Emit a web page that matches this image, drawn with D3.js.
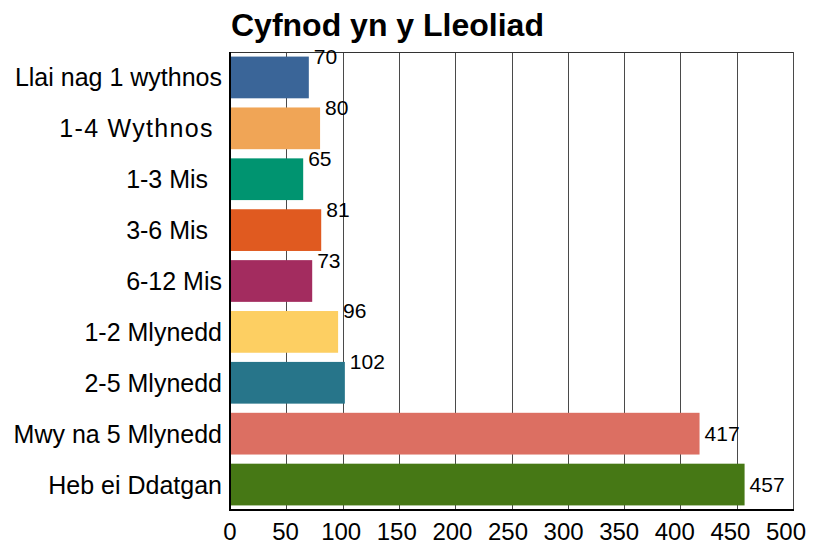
<!DOCTYPE html>
<html>

<head>
  <meta charset="UTF-8">
  <style>
    body { margin: 0; background: #fff; }
    text { font-family: Arial, "Liberation Sans", sans-serif; white-space: pre; }
  </style>
</head>

<body>
  <svg></svg>
  <script src="https://d3js.org/d3.v7.min.js"></script>

  <script>

    let width = 819, height = 545;

    // chart data
    let categories = ["Llai nag 1 wythnos", "1-4 Wythnos ", "1-3 Mis  ", "3-6 Mis  ", "6-12 Mis",
      "1-2 Mlynedd", "2-5 Mlynedd", "Mwy na 5 Mlynedd", "Heb ei Ddatgan"];
    let values = [70, 80, 65, 81, 73, 96, 102, 417, 457];
    let colors = ["#3a6598", "#f0a556", "#009470", "#e05a20", "#a32c5f",
      "#fdcf62", "#27758a", "#dc6f62", "#467815"];
    let xTicks = [0, 50, 100, 150, 200, 250, 300, 350, 400, 450, 500];

    let margin = { top: 52, right: 26, bottom: 35, left: 230 };

    let svg = d3.select("svg")
      .attr("width", width)
      .attr("height", height);

    let x = d3.scaleLinear()
      .domain([0, 500])
      .range([margin.left, width - margin.right]);

    let y = d3.scaleBand()
      .domain(categories)
      .range([margin.top, height - margin.bottom])
      .paddingInner(0.18)
      .paddingOuter(0.09);

    // title
    svg.append("text")
      .attr("x", margin.left + 1)
      .attr("y", 36)
      .attr("font-size", 32)
      .attr("font-weight", "bold")
      .text("Cyfnod yn y Lleoliad");

    // grid lines
    svg.append("g")
      .selectAll("line")
      .data(xTicks)
      .enter()
      .append("line")
      .attr("x1", d => Math.round(x(d)) + 0.5)
      .attr("x2", d => Math.round(x(d)) + 0.5)
      .attr("y1", margin.top)
      .attr("y2", height - margin.bottom)
      .attr("stroke", "#4a4a4a")
      .attr("stroke-width", 1);

    // top border
    svg.append("line")
      .attr("x1", margin.left).attr("x2", width - margin.right)
      .attr("y1", margin.top + 0.5).attr("y2", margin.top + 0.5)
      .attr("stroke", "#333");

    // bars
    let data = categories.map((c, i) => ({ cat: c, value: values[i], color: colors[i] }));

    svg.append("g")
      .selectAll("rect")
      .data(data)
      .enter()
      .append("rect")
      .attr("x", x(0))
      .attr("y", d => y(d.cat))
      .attr("width", d => x(d.value) - x(0))
      .attr("height", y.bandwidth())
      .attr("fill", d => d.color);

    // value labels (short bars get their label lifted up, like the original)
    svg.append("g")
      .selectAll("text")
      .data(data)
      .enter()
      .append("text")
      .attr("x", d => x(d.value) + 5)
      .attr("y", d => y(d.cat) + y.bandwidth() / 2 + (d.value < 200 ? -21 : 0))
      .attr("dy", "0.36em")
      .attr("font-size", 21)
      .attr("fill", "#000")
      .text(d => d.value);

    // category labels
    svg.append("g")
      .selectAll("text")
      .data(categories)
      .enter()
      .append("text")
      .attr("x", margin.left - 8)
      .attr("y", d => y(d) + y.bandwidth() / 2)
      .attr("dy", "0.36em")
      .attr("text-anchor", "end")
      .attr("font-size", 25)
      .attr("letter-spacing", d => d.startsWith("1-4") ? 1.3 : 0)
      .text(d => d);

    // x tick labels
    svg.append("g")
      .selectAll("text")
      .data(xTicks)
      .enter()
      .append("text")
      .attr("x", d => x(d) - d / 500 * 7)
      .attr("y", height - 5)
      .attr("text-anchor", "middle")
      .attr("font-size", 24)
      .text(d => d);

    // axis lines
    svg.append("line")
      .attr("x1", margin.left).attr("x2", margin.left)
      .attr("y1", margin.top).attr("y2", height - margin.bottom + 1)
      .attr("stroke", "#000").attr("stroke-width", 2);

    svg.append("line")
      .attr("x1", margin.left - 1).attr("x2", width - margin.right + 1)
      .attr("y1", height - margin.bottom).attr("y2", height - margin.bottom)
      .attr("stroke", "#000").attr("stroke-width", 2);

  </script>

</body>

</html>
